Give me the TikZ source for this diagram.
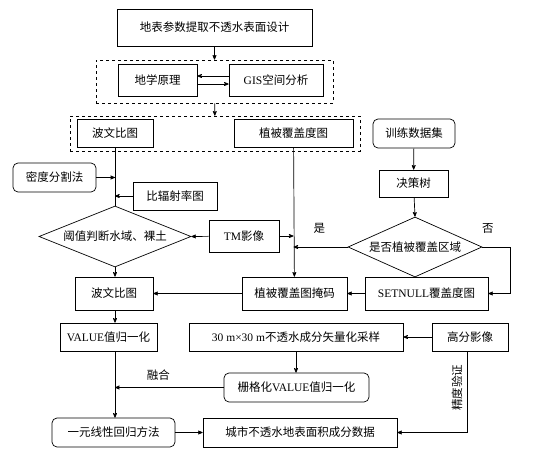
\documentclass[tikz,border=0pt]{standalone}
\usepackage{fontspec}
\setmainfont{Liberation Serif}
\newfontfamily\cjk{Noto Sans CJK SC}
\newcommand\lat[1]{{\rmfamily #1}}
\usetikzlibrary{arrows,shapes.geometric}

\begin{document}
\begin{tikzpicture}[x=1pt,y=-1pt,>=stealth',line width=0.7pt,
    font=\cjk\fontsize{11.5}{13}\selectfont,
    box/.style={draw,rectangle,inner sep=0pt},
    rbox/.style={box,rounded corners=5pt},
    cond/.style={draw,diamond,shape aspect=2.5,inner sep=0pt},
    grp/.style={draw,dashed,rectangle,inner sep=0pt}]
        \useasboundingbox (0,0) rectangle (546,458);

        \node[box, minimum width=195, minimum height=37] (design) at (214.5,27.5) {地表参数提取不透水表面设计};
        \node[grp, minimum width=237, minimum height=43] (grp1) at (214.5,81.5) {};
        \node[box, minimum width=79, minimum height=32] (geo) at (157.5,80) {地学原理};
        \node[box, minimum width=94, minimum height=32] (gis) at (276,80) {\lat{GIS}空间分析};
        \node[grp, minimum width=290, minimum height=35] (grp2) at (215,133.5) {};
        \node[box, minimum width=76, minimum height=28] (bowen) at (115,133) {波文比图};
        \node[box, minimum width=119, minimum height=28] (veg) at (293.5,133) {植被覆盖度图};
        \node[rbox, minimum width=82, minimum height=29] (train) at (414,133.5) {训练数据集};
        \node[rbox, minimum width=83, minimum height=29] (density) at (54.5,177.5) {密度分割法};
        \node[box, minimum width=84, minimum height=28] (emis) at (175,196) {比辐射率图};
        \node[box, minimum width=69, minimum height=27] (tree) at (413.5,183.5) {决策树};
        \node[cond, minimum width=152, minimum height=61] (thr) at (115,236.5) {阈值判断水域、裸土};
        \node[box, minimum width=70, minimum height=32] (tm) at (244,236) {\lat{TM}影像};
        \node[cond, shape aspect=2.2, minimum width=134, minimum height=60] (isveg) at (415,247) {是否植被覆盖区域};
        \node[box, minimum width=78, minimum height=33] (bowen2) at (114,293.5) {波文比图};
        \node[box, minimum width=105, minimum height=33] (mask) at (294.5,293.5) {植被覆盖图掩码};
        \node[box, minimum width=123, minimum height=33] (setnull) at (426.5,293.5) {\lat{SETNULL}覆盖度图};
        \node[box, minimum width=97, minimum height=28] (value) at (108.5,337) {\lat{VALUE}值归一化};
        \node[box, minimum width=214, minimum height=28] (sample) at (296,337) {\lat{30 m×30 m}不透水成分矢量化采样};
        \node[box, minimum width=76, minimum height=28] (hires) at (470,337) {高分影像};
        \node[rbox, minimum width=145, minimum height=29] (grid) at (296.5,387.5) {栅格化\lat{VALUE}值归一化};
        \node[rbox, minimum width=123, minimum height=29] (regr) at (113.5,432.5) {一元线性回归方法};
        \node[box, minimum width=194, minimum height=29] (city) at (300,432.5) {城市不透水地表面积成分数据};

        \coordinate (bend) at (510,247);
        \coordinate (check) at (467,432.5);

        \draw[->] (design) -- (grp1);
        \draw[->] ([yshift=4pt]gis.west) -- ([yshift=4pt]geo.east);
        \draw[->] ([yshift=-4pt]geo.east) -- ([yshift=-4pt]gis.west);
        \draw[->] (grp1) -- (grp2);

        \draw (bowen) -- (thr.north);
        \draw[->] (density) -- (bowen |- density);
        \draw[->] (emis) -- (bowen |- emis);
        \draw[->] (tm) -- (thr.east);
        \draw[->] (tm) -- (veg |- tm);
        \draw[->] (veg) -- (mask);
        \draw[->] (train) -- (tree);
        \draw[->] (tree) -- (isveg.north);
        \draw[->] (isveg.west) -- (veg |- isveg.west) node[pos=0.52, above=10pt] {是};
        \draw[->] (isveg.east) -- (bend) node[pos=0.2, above=10pt] {否} |- (setnull);
        \draw[->] (thr.south) -- (thr.south |- bowen2.north);
        \draw[->] (setnull) -- (mask);
        \draw[->] (mask) -- (bowen2);

        \draw[->] (bowen2.south -| thr.south) -- (thr.south |- value.north);
        \draw[->] (hires) -- (sample);
        \draw[->] (sample) -- (sample |- grid.north);
        \draw[->] (value.south -| thr.south) -- (thr.south |- regr.north);
        \draw[->] (grid) -- (thr.south |- grid) node[pos=0.6, above=3pt] {融合};
        \draw[->] (regr) -- (city);
        \draw[->] (hires.south -| check) -- (check) node[pos=0.45, left=1pt, rotate=90, anchor=south] {精度验证} -- (city);
\end{tikzpicture}
\end{document}
